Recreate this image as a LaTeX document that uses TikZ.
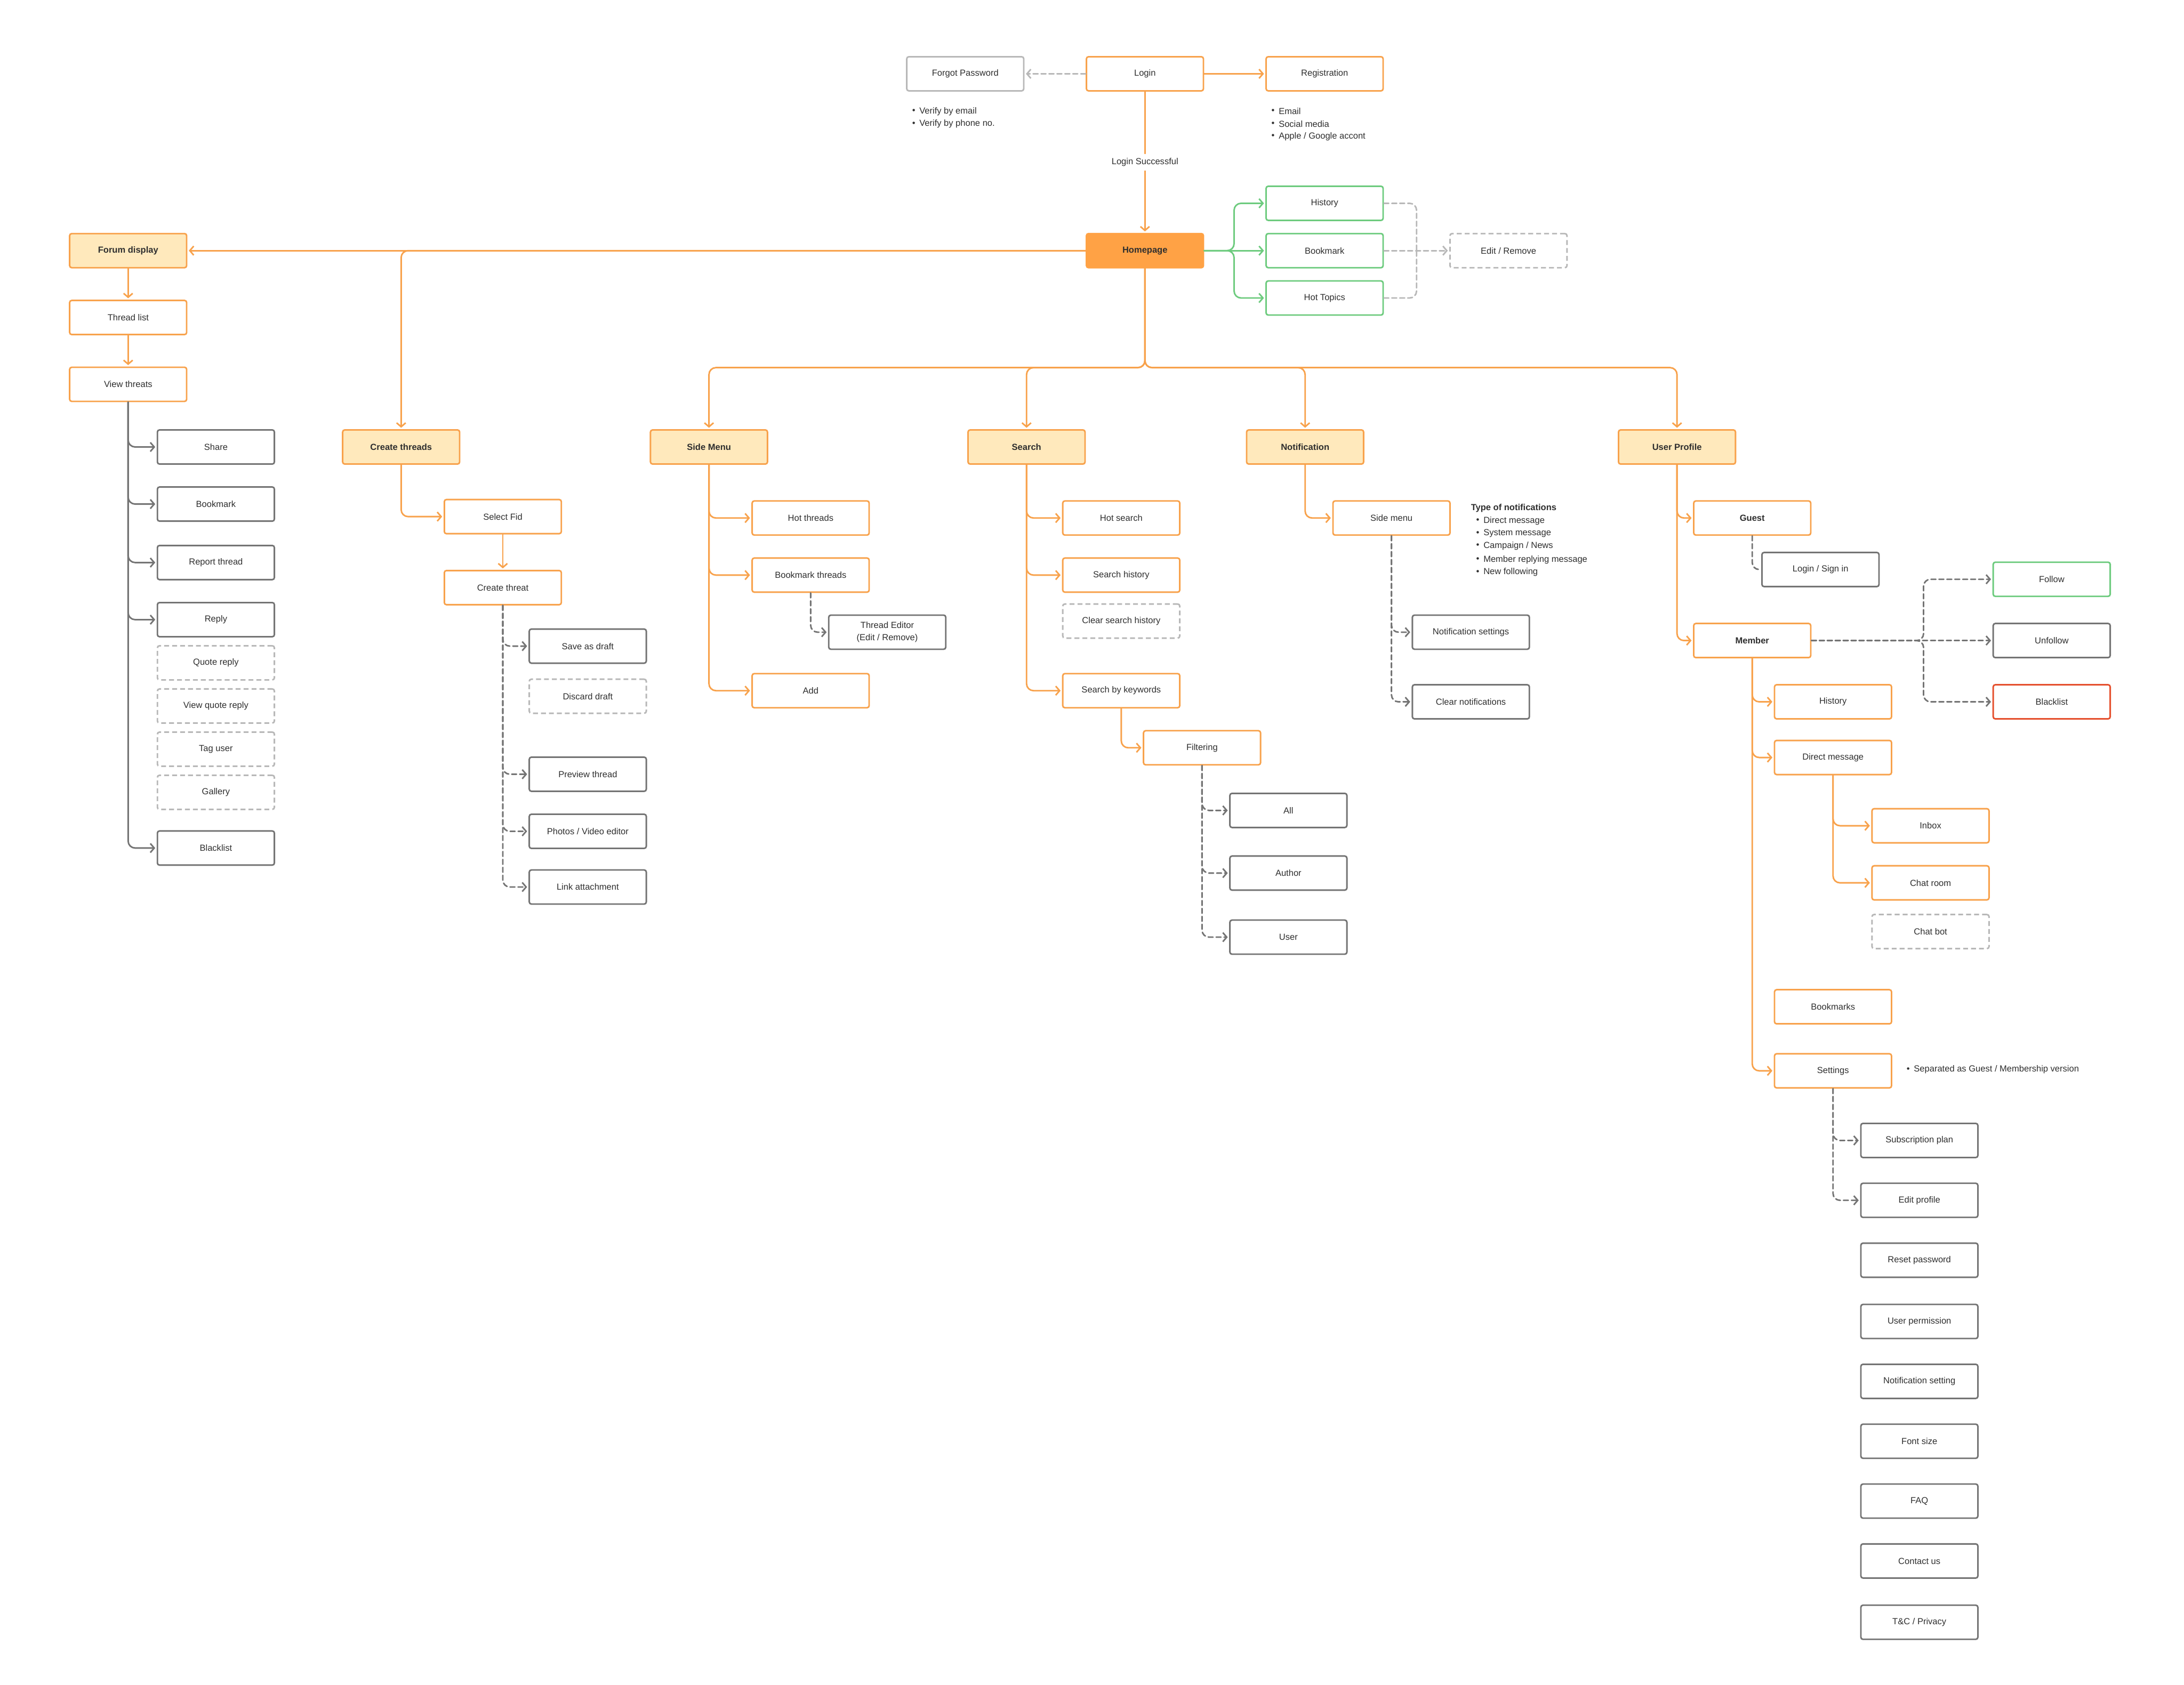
\documentclass[tikz,border=0pt]{standalone}
\usepackage{fontspec}
\setmainfont{Liberation Sans}
\usetikzlibrary{arrows.meta,calc}
\definecolor{org}{HTML}{F8A24C}
\definecolor{hp}{HTML}{FFA245}
\definecolor{yel}{HTML}{FFE9BC}
\definecolor{gr}{HTML}{747474}
\definecolor{lg}{HTML}{B8B8B8}
\definecolor{grn}{HTML}{6DCB7E}
\definecolor{rd}{HTML}{E5502E}
\definecolor{txt}{HTML}{2E2E2E}
\begin{document}
\begin{tikzpicture}[x=1mm,y=-1mm,
  box/.style={draw, rounded corners=1.5mm, minimum width=84mm, minimum height=24.5mm,
    line width=1.1mm, font=\fontsize{18}{25}\selectfont, text=txt, inner sep=0pt, align=center},
  obox/.style={box, draw=org},
  ybox/.style={box, draw=org, fill=yel, font=\fontsize{18}{25}\selectfont\bfseries},
  hbox/.style={box, draw=hp, fill=hp, font=\fontsize{18}{25}\selectfont\bfseries},
  gbox/.style={box, draw=gr},
  dbox/.style={box, draw=lg, dash pattern=on 3.5mm off 2.2mm},
  grbox/.style={box, draw=grn},
  rbox/.style={box, draw=rd},
  note/.style={anchor=west, font=\fontsize{18}{22}\selectfont, text=txt, inner sep=0pt},
  bul/.style={anchor=center, font=\fontsize{18}{22}\selectfont, text=txt, inner sep=0pt},
  arr/.style={-{Straight Barb[length=2.8mm,width=6.5mm]}, shorten >=1mm},
  con/.style={line width=1.1mm, rounded corners=5mm, line cap=round, line join=round},
  ol/.style={con, draw=org, arr},
  gl/.style={con, draw=gr, arr},
  dl/.style={con, draw=gr, dash pattern=on 3.5mm off 2.2mm, arr},
  dln/.style={con, draw=gr, dash pattern=on 3.5mm off 2.2mm},
  ll/.style={con, draw=lg, dash pattern=on 3.5mm off 2.2mm, arr},
  lln/.style={con, draw=lg, dash pattern=on 3.5mm off 2.2mm},
  grl/.style={con, draw=grn, arr}
]
\useasboundingbox[fill=white] (0,0) rectangle (1568,1210);

% top
\node[obox] (login) at (822,53) {Login};
\node[box, draw=lg] (forgot) at (693,53) {Forgot Password};
\node[obox] (reg) at (951,53) {Registration};
\node[bul] (b1) at (656,80) {•}; \node[note] (t1) at (660,80) {Verify by email};
\node[bul] (b2) at (656,89) {•}; \node[note] (t2) at (660,89) {Verify by phone no.};
\node[bul] (b3) at (914,80) {•}; \node[note] (t3) at (918,80) {Email};
\node[bul] (b4) at (914,89) {•}; \node[note] (t4) at (918,89) {Social media};
\node[bul] (b5) at (914,98) {•}; \node[note] (t5) at (918,98) {Apple / Google accont};

\node[hbox] (home) at (822,180) {Homepage};
\node[grbox] (hist) at (951,146) {History};
\node[grbox] (hbm) at (951,180) {Bookmark};
\node[grbox] (hot) at (951,214) {Hot Topics};
\node[dbox] (edit) at (1083,180) {Edit / Remove};

\draw[ll] (login.west) -- (forgot.east);
\draw[ol] (login.east) -- (reg.west);
\draw[ol] (login.south) -- node[fill=white, font=\fontsize{18}{22}\selectfont, text=txt, inner sep=3mm] (ls) {Login Successful} (home.north);

\coordinate (gbus) at (886,180);
\draw[grl] (home.east) -- (gbus) |- (hist.west);
\draw[grl] (home.east) -- (hbm.west);
\draw[grl] (home.east) -- (gbus) |- (hot.west);
\coordinate (dbus) at (1017,180);
\draw[lln] (hist.east) -| (dbus);
\draw[lln] (hot.east) -| (dbus);
\draw[ll] (hbm.east) -- (edit.west);

% level 1
\node[ybox] (forum) at (92,180) {Forum display};
\node[obox] (tlist) at (92,228) {Thread list};
\node[obox] (vt) at (92,276) {View threats};
\node[ybox] (ct) at (288,321) {Create threads};
\node[ybox] (sm) at (509,321) {Side Menu};
\node[ybox] (search) at (737,321) {Search};
\node[ybox] (notif) at (937,321) {Notification};
\node[ybox] (up) at (1204,321) {User Profile};

\draw[ol] (home.west) -- (forum.east);
\draw[ol] (home.west) -| (ct.north);
\draw[ol] (forum.south) -- (tlist.north);
\draw[ol] (tlist.south) -- (vt.north);
\coordinate (bus) at (822,264);
\draw[ol] (home.south) -- (bus) -| (sm.north);
\draw[ol] (home.south) -- (bus) -| (search.north);
\draw[ol] (home.south) -- (bus) -| (notif.north);
\draw[ol] (home.south) -- (bus) -| (up.north);

% forum column
\node[gbox] (share) at (155,321) {Share};
\node[gbox] (fbm) at (155,362) {Bookmark};
\node[gbox] (rep) at (155,404) {Report thread};
\node[gbox] (reply) at (155,445) {Reply};
\node[dbox] (qr) at (155,476) {Quote reply};
\node[dbox] (vqr) at (155,507) {View quote reply};
\node[dbox] (tag) at (155,538) {Tag user};
\node[dbox] (gal) at (155,569) {Gallery};
\node[gbox] (fbl) at (155,609) {Blacklist};
\foreach \t in {share,fbm,rep,reply,fbl} \draw[gl] (vt.south) |- (\t.west);

% create threads column
\node[obox] (sf) at (361,371) {Select Fid};
\node[obox] (cthr) at (361,422) {Create threat};
\node[gbox] (sad) at (422,464) {Save as draft};
\node[dbox] (dd) at (422,500) {Discard draft};
\node[gbox] (pt) at (422,556) {Preview thread};
\node[gbox] (pve) at (422,597) {Photos / Video editor};
\node[gbox] (la) at (422,637) {Link attachment};
\draw[ol] (ct.south) |- (sf.west);
\draw[ol] (sf.south) -- (cthr.north);
\foreach \t in {sad,pt,pve,la} \draw[dl] (cthr.south) |- (\t.west);

% side menu column
\node[obox] (ht) at (582,372) {Hot threads};
\node[obox] (bt) at (582,413) {Bookmark threads};
\node[gbox] (te) at (637,454) {Thread Editor\\(Edit / Remove)};
\node[obox] (add) at (582,496) {Add};
\foreach \t in {ht,bt,add} \draw[ol] (sm.south) |- (\t.west);
\draw[dl] (bt.south) |- (te.west);

% search column
\node[obox] (hs) at (805,372) {Hot search};
\node[obox] (sh) at (805,413) {Search history};
\node[dbox] (csh) at (805,446) {Clear search history};
\node[obox] (sk) at (805,496) {Search by keywords};
\node[obox] (filt) at (863,537) {Filtering};
\node[gbox] (all) at (925,582) {All};
\node[gbox] (auth) at (925,627) {Author};
\node[gbox] (usr) at (925,673) {User};
\foreach \t in {hs,sh,sk} \draw[ol] (search.south) |- (\t.west);
\draw[ol] (sk.south) |- (filt.west);
\foreach \t in {all,auth,usr} \draw[dl] (filt.south) |- (\t.west);

% notification column
\node[obox] (sidem) at (999,372) {Side menu};
\node[note, font=\fontsize{18}{22}\selectfont\bfseries] (ton) at (1056,365) {Type of notifications};
\node[bul] (nb1) at (1061,374) {•}; \node[note] (nt1) at (1065,374) {Direct message};
\node[bul] (nb2) at (1061,383) {•}; \node[note] (nt2) at (1065,383) {System message};
\node[bul] (nb3) at (1061,392) {•}; \node[note] (nt3) at (1065,392) {Campaign / News};
\node[bul] (nb4) at (1061,402) {•}; \node[note] (nt4) at (1065,402) {Member replying message};
\node[bul] (nb5) at (1061,411) {•}; \node[note] (nt5) at (1065,411) {New following};
\node[gbox] (ns) at (1056,454) {Notification settings};
\node[gbox] (cn) at (1056,504) {Clear notifications};
\draw[ol] (notif.south) |- (sidem.west);
\foreach \t in {ns,cn} \draw[dl] (sidem.south) |- (\t.west);

% user profile column
\node[obox, font=\fontsize{18}{25}\selectfont\bfseries] (guest) at (1258,372) {Guest};
\node[gbox] (lsi) at (1307,409) {Login / Sign in};
\node[obox, font=\fontsize{18}{25}\selectfont\bfseries] (member) at (1258,460) {Member};
\node[grbox] (follow) at (1473,416) {Follow};
\node[gbox] (unf) at (1473,460) {Unfollow};
\node[rbox] (ubl) at (1473,504) {Blacklist};
\node[obox] (uhist) at (1316,504) {History};
\node[obox] (dm) at (1316,544) {Direct message};
\node[obox] (inbox) at (1386,593) {Inbox};
\node[obox] (chat) at (1386,634) {Chat room};
\node[dbox] (bot) at (1386,669) {Chat bot};
\node[obox] (bms) at (1316,723) {Bookmarks};
\node[obox] (set) at (1316,769) {Settings};
\node[bul] (sb) at (1370,768) {•}; \node[note] (stx) at (1374,768) {Separated as Guest / Membership version};
\node[gbox] (sub) at (1378,819) {Subscription plan};
\node[gbox] (ep) at (1378,862) {Edit profile};
\node[gbox] (rp) at (1378,905) {Reset password};
\node[gbox] (uperm) at (1378,949) {User permission};
\node[gbox] (nset) at (1378,992) {Notification setting};
\node[gbox] (fs) at (1378,1035) {Font size};
\node[gbox] (faq) at (1378,1078) {FAQ};
\node[gbox] (cu) at (1378,1121) {Contact us};
\node[gbox] (tc) at (1378,1165) {T\&C / Privacy};

\foreach \t in {guest,member} \draw[ol] (up.south) |- (\t.west);
\draw[dln] (guest.south) |- (lsi.west);
\coordinate (mbus) at (1381,460);
\draw[dl] (member.east) -- (mbus) |- (follow.west);
\draw[dl] (member.east) -- (unf.west);
\draw[dl] (member.east) -- (mbus) |- (ubl.west);
\foreach \t in {uhist,dm,set} \draw[ol] (member.south) |- (\t.west);
\foreach \t in {inbox,chat} \draw[ol] (dm.south) |- (\t.west);
\foreach \t in {sub,ep} \draw[dl] (set.south) |- (\t.west);
\end{tikzpicture}
\end{document}
